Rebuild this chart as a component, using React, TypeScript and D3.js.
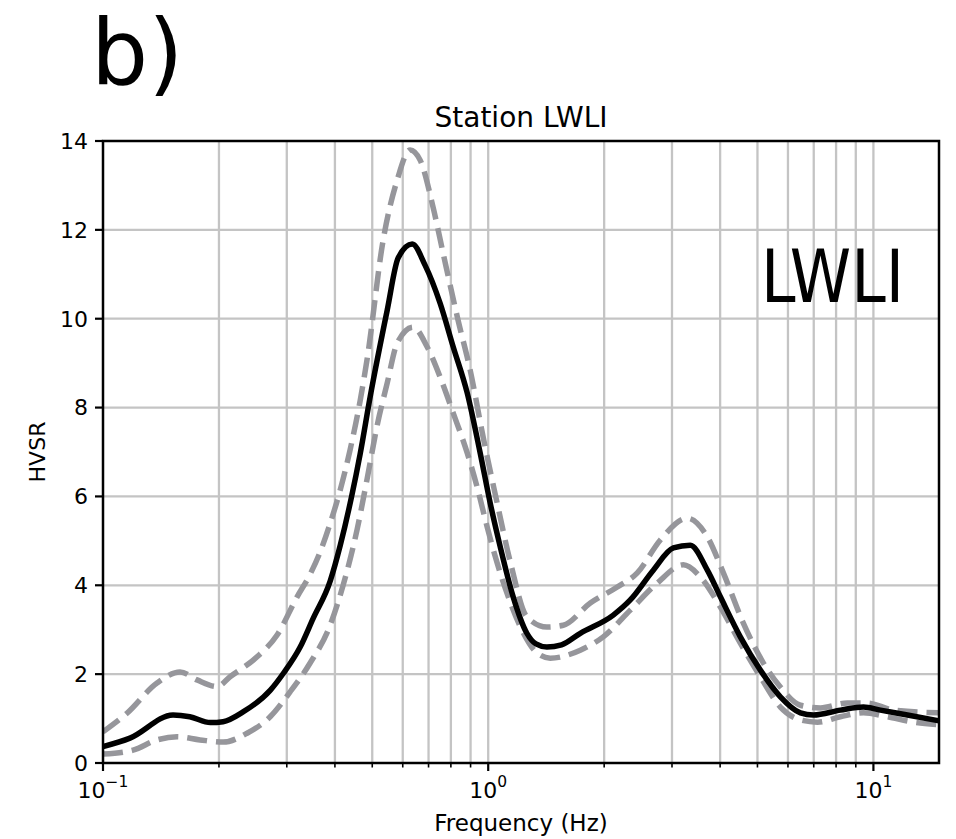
import React from "react";
import * as d3 from "d3";

const meanF = [0.1, 0.1175, 0.152, 0.168, 0.19, 0.205, 0.231, 0.272, 0.294, 0.325, 0.351, 0.389, 0.413, 0.442, 0.465, 0.494, 0.547, 0.584, 0.635, 0.686, 0.75, 0.811, 0.882, 0.953, 1.012, 1.075, 1.161, 1.26, 1.33, 1.42, 1.55, 1.734, 2.112, 2.338, 2.683, 3.024, 3.347, 3.706, 4.006, 4.513, 5.088, 5.734, 6.463, 6.986, 8.21, 9.42, 10.43, 12.25, 14.8];
const meanV = [0.37, 0.56, 1.08, 1.04, 0.91, 0.93, 1.15, 1.64, 2.02, 2.61, 3.25, 4.1, 4.9, 6.0, 6.95, 8.25, 10.2, 11.37, 11.68, 11.2, 10.35, 9.37, 8.33, 6.98, 5.85, 4.86, 3.74, 2.92, 2.68, 2.61, 2.66, 2.92, 3.33, 3.67, 4.34, 4.84, 4.9, 4.34, 3.74, 2.84, 2.09, 1.49, 1.13, 1.08, 1.19, 1.26, 1.19, 1.08, 0.95];

const upperF = [0.1, 0.1154, 0.1381, 0.1585, 0.1754, 0.1978, 0.2137, 0.2512, 0.2831, 0.3191, 0.345, 0.3662, 0.389, 0.413, 0.438, 0.465, 0.4851, 0.5337, 0.5803, 0.6271, 0.6657, 0.7197, 0.764, 0.835, 0.898, 0.97, 1.055, 1.143, 1.26, 1.42, 1.566, 1.841, 2.163, 2.438, 2.798, 3.288, 3.706, 4.078, 4.595, 5.181, 5.734, 6.463, 7.285, 8.562, 9.65, 11.27, 14.8];
const upperV = [0.7, 1.12, 1.8, 2.05, 1.87, 1.72, 1.94, 2.39, 2.88, 3.74, 4.25, 4.75, 5.4, 6.15, 7.05, 8.15, 9.1, 11.77, 13.12, 13.8, 13.57, 12.5, 11.47, 9.97, 8.84, 7.34, 5.85, 4.5, 3.29, 3.06, 3.1, 3.6, 3.96, 4.28, 5.02, 5.51, 5.09, 4.28, 3.15, 2.25, 1.71, 1.3, 1.24, 1.35, 1.35, 1.19, 1.13];

const lowerF = [0.1, 0.1197, 0.1381, 0.1557, 0.1786, 0.2049, 0.2366, 0.2716, 0.306, 0.3449, 0.3887, 0.4201, 0.4566, 0.485, 0.515, 0.5467, 0.5803, 0.6384, 0.694, 0.75, 0.811, 0.882, 0.936, 0.994, 1.055, 1.143, 1.233, 1.33, 1.449, 1.734, 1.989, 2.338, 2.748, 3.21, 3.553, 4.006, 4.513, 5.088, 5.734, 6.463, 7.155, 8.21, 9.42, 10.87, 12.7, 14.8];
const lowerV = [0.2, 0.29, 0.52, 0.59, 0.52, 0.47, 0.67, 1.04, 1.6, 2.25, 3.1, 4.0, 5.25, 6.4, 7.6, 8.55, 9.45, 9.81, 9.37, 8.69, 7.88, 6.98, 6.21, 5.31, 4.5, 3.6, 2.93, 2.5, 2.36, 2.54, 2.84, 3.44, 4.05, 4.46, 4.19, 3.51, 2.7, 1.94, 1.26, 0.97, 0.92, 1.04, 1.13, 1.04, 0.92, 0.86];

const yTicks = [0, 2, 4, 6, 8, 10, 12, 14];
const xMajor = [0.1, 1, 10];
const xMajorExp = ["\u22121", "0", "1"];
const xMinor = [0.2, 0.3, 0.4, 0.5, 0.6, 0.7, 0.8, 0.9, 2, 3, 4, 5, 6, 7, 8, 9];

const title = "Station LWLI";
const panelLabel = "b)";
const stationLabel = "LWLI";
const xLabel = "Frequency (Hz)";
const yLabel = "HVSR";

const FONT = "DejaVu Sans, sans-serif";

export default function App() {
  const L = 103, R = 939, T = 141, B = 763;
  const x = d3.scaleLog().domain([0.1, 14.8]).range([L, R]);
  const y = d3.scaleLinear().domain([0, 14]).range([B, T]);
  const line = d3
    .line<[number, number]>()
    .x((d) => x(d[0]))
    .y((d) => y(d[1]))
    .curve(d3.curveMonotoneX);
  const mk = (f: number[], v: number[]) => f.map((ff, i) => [ff, v[i]] as [number, number]);
  const gridColor = "#c4c4c4";
  const dashColor = "#96969b";

  return (
    <svg width={956} height={839} style={{ position: "absolute", left: 0, top: 0, background: "#fff" }} fontFamily={FONT}>
      <defs>
        <clipPath id="plot">
          <rect x={L} y={T} width={R - L} height={B - T} />
        </clipPath>
      </defs>
      <rect x={0} y={0} width={956} height={839} fill="#fff" />
      {[...xMajor, ...xMinor].filter((v) => v > 0.1 && v < 14.8).map((v, i) => (
        <line key={"gx" + i} x1={x(v)} x2={x(v)} y1={T} y2={B} stroke={gridColor} strokeWidth={2.3} />
      ))}
      {yTicks.filter((v) => v > 0 && v < 14).map((v) => (
        <line key={"gy" + v} x1={L} x2={R} y1={y(v)} y2={y(v)} stroke={gridColor} strokeWidth={2.3} />
      ))}
      <g clipPath="url(#plot)" fill="none">
        <path d={line(mk(upperF, upperV)) || ""} stroke={dashColor} strokeWidth={5.5} strokeDasharray="20,9" />
        <path d={line(mk(lowerF, lowerV)) || ""} stroke={dashColor} strokeWidth={5.5} strokeDasharray="20,9" />
        <path d={line(mk(meanF, meanV)) || ""} stroke="#000" strokeWidth={5.5} strokeLinejoin="round" />
      </g>
      <rect x={L} y={T} width={R - L} height={B - T} fill="none" stroke="#000" strokeWidth={2.5} />
      {yTicks.map((v) => (
        <g key={"yt" + v}>
          <line x1={L - 8} x2={L} y1={y(v)} y2={y(v)} stroke="#000" strokeWidth={2.2} />
          <text x={88} y={y(v)} dy="0.36em" textAnchor="end" fontSize={22} fill="#000">
            {v}
          </text>
        </g>
      ))}
      {xMinor.map((v) => (
        <line key={"xm" + v} x1={x(v)} x2={x(v)} y1={B} y2={B + 4.5} stroke="#000" strokeWidth={1.6} />
      ))}
      {xMajor.map((v, i) => (
        <g key={"xM" + v}>
          <line x1={x(v)} x2={x(v)} y1={B} y2={B + 8} stroke="#000" strokeWidth={2.2} />
          <text x={x(v)} y={798} textAnchor="middle" fontSize={22} fill="#000">
            <tspan>10</tspan>
            <tspan dy={-11} fontSize={15.5}>{xMajorExp[i]}</tspan>
          </text>
        </g>
      ))}
      <text x={(L + R) / 2} y={831} textAnchor="middle" fontSize={23} fill="#000">
        {xLabel}
      </text>
      <text transform={`translate(45,452) rotate(-90)`} textAnchor="middle" fontSize={22} fill="#000">
        {yLabel}
      </text>
      <text x={(L + R) / 2} y={127} textAnchor="middle" fontSize={28} fill="#000">
        {title}
      </text>
      <text x={91} y={84} fontSize={90} fill="#000">
        {panelLabel}
      </text>
      <text x={761} y={302} fontSize={73} fill="#000" textLength={143} lengthAdjust="spacingAndGlyphs">
        {stationLabel}
      </text>
    </svg>
  );
}
